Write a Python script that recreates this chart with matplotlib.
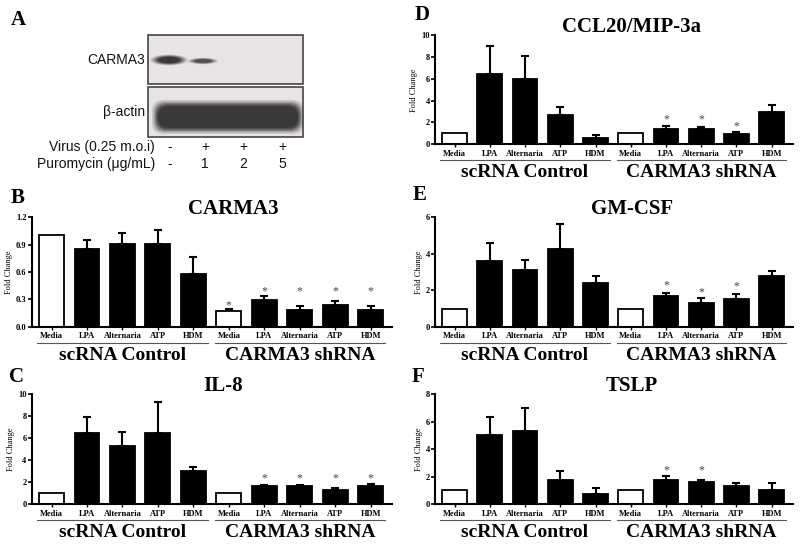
import numpy as np
import matplotlib
matplotlib.use("Agg")
import matplotlib.pyplot as plt
from matplotlib.patches import Rectangle, Ellipse, FancyBboxPatch
from matplotlib.transforms import blended_transform_factory

plt.rcParams['font.family'] = ['Liberation Serif', 'DejaVu Serif']
plt.rcParams['font.weight'] = 'bold'

# Categories
conds = ['Media', 'LPA', 'Alternaria', 'ATP', 'HDM'] * 2
groups = ['scRNA Control', 'CARMA3 shRNA']

# Western blot lane labels
virus = ['-', '+', '+', '+']
puromycin = ['-', '1', '2', '5']

# Fold change (mean, upper SEM, significance star height)
carma3_mean = [1.0, 0.85, 0.91, 0.905, 0.575, 0.172, 0.29, 0.19, 0.238, 0.183]
carma3_err = [0, 0.095, 0.115, 0.155, 0.185, 0.028, 0.05, 0.037, 0.04, 0.044]
carma3_star = [None] * 5 + [0.24, 0.39, 0.39, 0.39, 0.39]
carma3_ticks = [0.0, 0.3, 0.6, 0.9, 1.2]

il8_mean = [1.0, 6.5, 5.3, 6.45, 2.97, 1.0, 1.6, 1.6, 1.25, 1.6]
il8_err = [0, 1.38, 1.25, 2.85, 0.36, 0, 0.15, 0.15, 0.2, 0.18]
il8_star = [None] * 6 + [2.3, 2.3, 2.3, 2.3]
il8_ticks = [0, 2, 4, 6, 8, 10]

ccl20_mean = [1.0, 6.43, 5.98, 2.68, 0.61, 1.0, 1.4, 1.4, 0.95, 2.99]
ccl20_err = [0, 2.57, 2.16, 0.73, 0.24, 0, 0.25, 0.15, 0.21, 0.64]
ccl20_star = [None] * 6 + [2.29, 2.29, 1.62, None]
ccl20_ticks = [0, 2, 4, 6, 8, 10]

gmcsf_mean = [1.0, 3.62, 3.11, 4.24, 2.38, 1.0, 1.7, 1.32, 1.5, 2.8]
gmcsf_err = [0, 0.95, 0.55, 1.37, 0.4, 0, 0.13, 0.27, 0.29, 0.25]
gmcsf_star = [None] * 6 + [2.29, 1.87, 2.2, None]
gmcsf_ticks = [0, 2, 4, 6]

tslp_mean = [1.0, 5.0, 5.28, 1.72, 0.75, 1.0, 1.77, 1.58, 1.31, 1.04]
tslp_err = [0, 1.35, 1.68, 0.7, 0.44, 0, 0.29, 0.19, 0.19, 0.51]
tslp_star = [None] * 6 + [2.42, 2.42, None, None]
tslp_ticks = [0, 2, 4, 6, 8]

fig = plt.figure(figsize=(8, 5.44), dpi=100)

# background axes in pixel coords for the blot and panel letters
bg = fig.add_axes([0, 0, 1, 1])
bg.set_xlim(0, 800)
bg.set_ylim(544, 0)
bg.axis('off')


def bar_panel(rect, mean, err, star, ticks, title, title_x, fmt):
    ax = fig.add_axes(rect)
    x = np.arange(len(mean))
    colors = ['white' if c == 'Media' else 'black' for c in conds]
    ax.bar(x, mean, width=0.7, color=colors, edgecolor='black', linewidth=1.3, zorder=2)
    idx = [i for i in x if err[i] > 0]
    ax.errorbar(x[idx], np.array(mean)[idx], yerr=[np.zeros(len(idx)), np.array(err)[idx]],
                fmt='none', ecolor='black', elinewidth=1.5, capsize=3, capthick=1.5, zorder=1)
    for i, s in enumerate(star):
        if s is not None:
            ax.text(i, s, '*', ha='center', va='center', fontsize=8.5, color='#444444',
                    fontweight='normal')
    ax.set_xlim(-0.55, 9.6)
    ax.set_ylim(0, ticks[-1])
    ax.set_yticks(ticks)
    ax.set_yticklabels([fmt.format(t) for t in ticks], fontsize=6)
    ax.set_xticks(x)
    ax.set_xticklabels(conds, fontsize=6)
    ax.tick_params(axis='y', length=3, width=1.2, pad=1)
    ax.tick_params(axis='x', length=2, width=1, pad=2)
    for s in ['top', 'right']:
        ax.spines[s].set_visible(False)
    for s in ['left', 'bottom']:
        ax.spines[s].set_linewidth(1.5)
    ax.set_ylabel('Fold Change', fontsize=6, labelpad=2)
    ax.text(title_x, 1.03, title, transform=ax.transAxes, ha='center', va='baseline',
            fontsize=15)
    tr = blended_transform_factory(ax.transData, ax.transAxes)
    for g, name in enumerate(groups):
        lo, hi = g * 5 - 0.4, g * 5 + 4.4
        ax.plot([lo, hi], [-0.15, -0.15], color='#555555', lw=0.8, transform=tr, clip_on=False)
        ax.text((lo + hi) / 2, -0.30, name, transform=tr, ha='center', va='baseline',
                fontsize=14)
    return ax


bar_panel([0.04, 0.399, 0.45, 0.202], carma3_mean, carma3_err, carma3_star,
          carma3_ticks, 'CARMA3', 0.56, '{:.1f}')
bar_panel([0.04, 0.0735, 0.45, 0.202], il8_mean, il8_err, il8_star,
          il8_ticks, 'IL-8', 0.53, '{:d}')
bar_panel([0.544, 0.735, 0.447, 0.2], ccl20_mean, ccl20_err, ccl20_star,
          ccl20_ticks, 'CCL20/MIP-3a', 0.55, '{:d}')
bar_panel([0.544, 0.399, 0.447, 0.202], gmcsf_mean, gmcsf_err, gmcsf_star,
          gmcsf_ticks, 'GM-CSF', 0.55, '{:d}')
bar_panel([0.544, 0.0735, 0.447, 0.202], tslp_mean, tslp_err, tslp_star,
          tslp_ticks, 'TSLP', 0.55, '{:d}')

# panel letters
for letter, (px, py) in zip('ABCDEF', [(18, 20), (18, 198), (17, 377),
                                        (422, 15), (420, 195), (418, 377)]):
    bg.text(px, py, letter, ha='center', va='center', fontsize=15)

# western blot (panel A)
for y0, y1 in [(35, 84), (87, 137)]:
    bg.add_patch(Rectangle((148, y0), 155, y1 - y0, facecolor='#e8e4e4',
                           edgecolor='#444444', lw=1.2))
for k, a in enumerate([0.15, 0.25, 0.35, 0.5, 0.7]):
    sc = 1.1 - 0.12 * k
    bg.add_patch(Ellipse((169, 60), 34 * sc, 10 * sc, color='#2e2e2e', alpha=a, lw=0))
    bg.add_patch(Ellipse((203, 61), 28 * sc, 6 * sc, color='#3a3a3a', alpha=a * 0.8, lw=0))
for k, a in enumerate([0.15, 0.25, 0.4, 0.6, 0.85]):
    d = 3 * (4 - k)
    bg.add_patch(FancyBboxPatch((158 - d / 2, 106 - d / 2), 140 + d, 22 + d,
                                boxstyle='round,pad=0,rounding_size=11',
                                facecolor='#353535', alpha=a, lw=0))
sans = ['Liberation Sans', 'DejaVu Sans']
blot_font = dict(fontsize=10, family=sans, fontweight='normal', color='#111111')
bg.text(145, 60, 'CARMA3', ha='right', va='center', **blot_font)
bg.text(145, 112, 'β-actin', ha='right', va='center', **blot_font)
bg.text(155, 147, 'Virus (0.25 m.o.i)', ha='right', va='center', **blot_font)
bg.text(155, 164, 'Puromycin (μg/mL)', ha='right', va='center', **blot_font)
for lx, v, p in zip([170, 205, 243, 282], virus, puromycin):
    bg.text(lx, 147, v, ha='center', va='center', **blot_font)
    bg.text(lx, 164, p, ha='center', va='center', **blot_font)

fig.savefig('out.png', dpi=100)
